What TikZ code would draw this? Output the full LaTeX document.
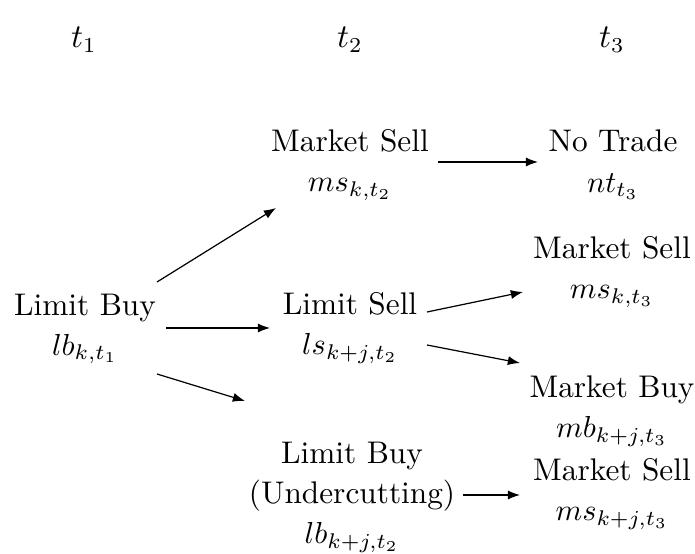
\documentclass[tikz,border=0pt]{standalone}
\usetikzlibrary{calc,arrows.meta}
\begin{document}
\begin{tikzpicture}[x={(0.329pt,0)},y={(0,-0.329pt)},
  lbl/.style={align=center,font=\fontsize{10.3}{13.2}\selectfont},
  arr/.style={-{Latex[length=4pt,width=3pt]},line width=0.4pt}]
\useasboundingbox (0,0) rectangle (695,554);
% time labels
\node[font=\fontsize{10.5}{13.2}\selectfont] (t1) at (84,40) {$t_1$};
\node[font=\fontsize{10.5}{13.2}\selectfont] (t2) at (350,40) {$t_2$};
\node[font=\fontsize{10.5}{13.2}\selectfont] (t3) at (612,40) {$t_3$};
% nodes
\node[lbl] (lb) at (85,329) {Limit Buy\\$lb_{k,t_1}$};
\node[lbl] (ms2) at (350,165) {Market Sell\\$ms_{k,t_2}$};
\node[lbl] (nt) at (613,165) {No Trade\\$nt_{t_3}$};
\node[lbl] (ls) at (350,328) {Limit Sell\\$ls_{k+j,t_2}$};
\node[lbl] (ms3) at (612,272) {Market Sell\\$ms_{k,t_3}$};
\node[lbl] (mb) at (612,411) {Market Buy\\$mb_{k+j,t_3}$};
\node[lbl] (lbu) at (352,497) {Limit Buy\\(Undercutting)\\$lb_{k+j,t_2}$};
\node[lbl] (ms3b) at (612,494) {Market Sell\\$ms_{k+j,t_3}$};
% connectors
\draw[arr] ($(lb)+(72,-47)$) -- ($(ms2)+(-74,43)$);
\draw[arr] ($(lb)+(81,-1)$) -- ($(ls)+(-80,0)$);
\draw[arr] ($(lb)+(72,45)$) -- ($(lbu)+(-107,-96)$);
\draw[arr] ($(ms2)+(88,-3)$) -- ($(nt)+(-75,-3)$);
\draw[arr] ($(ls)+(77,-16)$) -- ($(ms3)+(-89,20)$);
\draw[arr] ($(ls)+(77,17)$) -- ($(mb)+(-92,-48)$);
\draw[arr] ($(lbu)+(111,-2)$) -- ($(ms3b)+(-92,1)$);
\end{tikzpicture}
\end{document}
